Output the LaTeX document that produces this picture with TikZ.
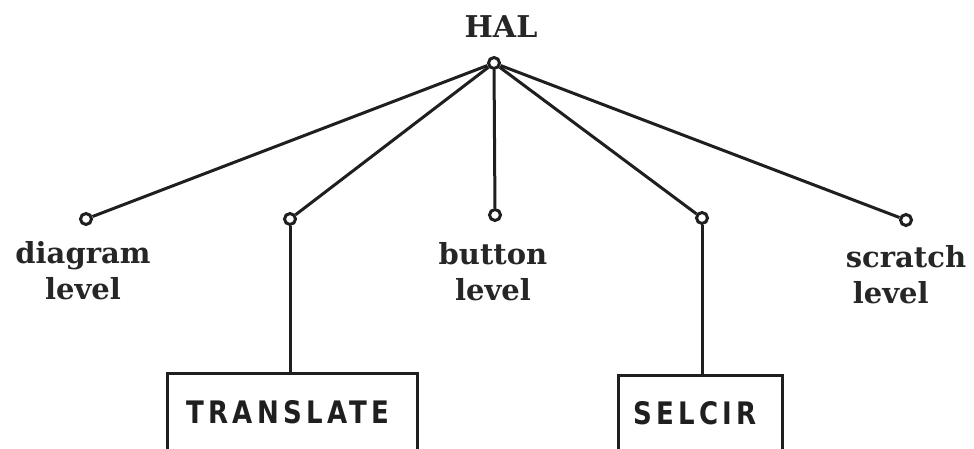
\documentclass[tikz,border=0pt]{standalone}
\usepackage{fontspec}
\setmainfont{DejaVu Serif}
\newfontfamily\boxfont[LetterSpace=14,FakeStretch=0.84]{DejaVu Sans}
\begin{document}
\begin{tikzpicture}[x=1pt,y=-1pt,
  conn/.style={line width=3pt,black!88},
  dot/.style={circle,draw=black!88,line width=3pt,inner sep=0pt,minimum size=11pt,fill=white},
  lbl/.style={font=\fontsize{29}{36}\selectfont\bfseries,text=black!85,inner sep=0pt,anchor=north},
  boxnode/.style={draw=black!88,line width=3pt,inner sep=0pt},
  boxtext/.style={font=\boxfont\fontsize{31}{34}\selectfont\bfseries,text=black!88,inner sep=0pt,anchor=base west}]
\useasboundingbox (0,0) rectangle (974,448);
\clip (0,0) rectangle (974,448);
\node[lbl,font=\fontsize{30}{36}\selectfont\bfseries,anchor=base] (hal) at (501,37) {HAL};
\node[dot] (top) at (494,63) {};
\node[dot] (d) at (86,219) {};
\node[dot] (t) at (290,219) {};
\node[dot] (b) at (495,215) {};
\node[dot] (s) at (702,218) {};
\node[dot] (r) at (906,220) {};
\node[lbl,align=center] (dl) at (83,241) {diagram\\level};
\node[lbl,align=center] (bl) at (493,242) {button\\level};
\node[lbl,align=left] (rl) at (906,245) {scratch\\\hspace*{7pt}level};
\node[boxnode,minimum width=250pt,minimum height=80pt] (tb) at (292,413) {};
\node[boxnode,minimum width=164pt,minimum height=78pt] (sb) at (700,414) {};
\node[boxtext] (tt) at (186,423) {TRANSLATE};
\node[boxtext] (st) at (633,424) {SELCIR};
\draw[conn] (top) -- (d);
\draw[conn] (top) -- (t);
\draw[conn] (top) -- (b);
\draw[conn] (top) -- (s);
\draw[conn] (top) -- (r);
\draw[conn] (t) -- (t |- tb.north);
\draw[conn] (s) -- (s |- sb.north);
\end{tikzpicture}
\end{document}
